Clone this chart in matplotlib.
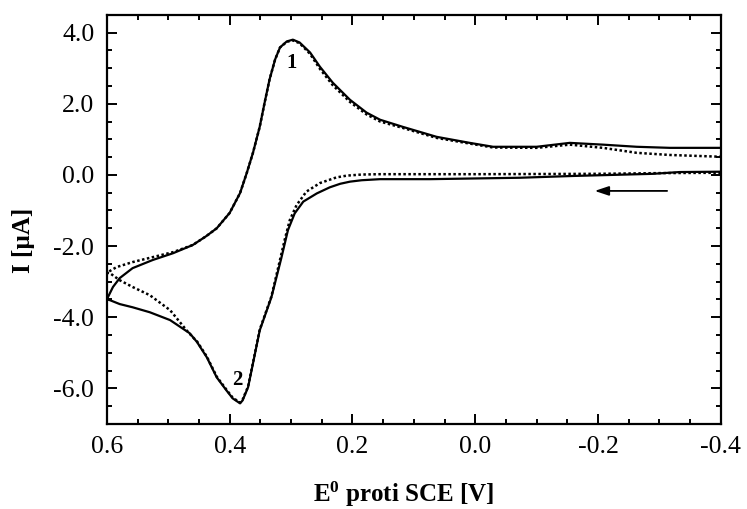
import matplotlib
matplotlib.use("Agg")
import matplotlib.pyplot as plt
from matplotlib.ticker import MultipleLocator, FormatStrFormatter

plt.rcParams["font.family"] = ["Liberation Serif", "DejaVu Serif"]
plt.rcParams["axes.unicode_minus"] = False
plt.rcParams["mathtext.fontset"] = "custom"
plt.rcParams["mathtext.rm"] = "Liberation Serif:bold"
plt.rcParams["mathtext.it"] = "Liberation Serif:bold"
plt.rcParams["mathtext.bf"] = "Liberation Serif:bold"

# solid curve: scan starts at -0.4 V (lower branch), turns at 0.6 V, returns
solid_E = [-0.4, -0.333, -0.289, -0.159, -0.073, 0.074, 0.155, 0.185,
           0.204, 0.220, 0.237, 0.258, 0.280, 0.294, 0.305, 0.316, 0.332,
           0.351, 0.362, 0.370, 0.379, 0.383, 0.395, 0.405, 0.421, 0.437,
           0.453, 0.465, 0.497, 0.530, 0.558, 0.579, 0.595, 0.6,
           0.590, 0.579, 0.558, 0.525, 0.492, 0.460, 0.438, 0.421, 0.400,
           0.383, 0.372, 0.362, 0.351, 0.343, 0.335, 0.326, 0.318, 0.307,
           0.297, 0.286, 0.269, 0.253, 0.232, 0.204, 0.177, 0.155, 0.118,
           0.063, 0.009, -0.029, -0.100, -0.154, -0.208, -0.263, -0.317,
           -0.4]
solid_I = [0.09, 0.08, 0.03, -0.03, -0.08, -0.12, -0.12, -0.15,
           -0.19, -0.25, -0.35, -0.52, -0.75, -1.08, -1.55, -2.35, -3.44,
           -4.37, -5.30, -5.97, -6.34, -6.42, -6.28, -6.06, -5.69, -5.13,
           -4.70, -4.45, -4.08, -3.86, -3.72, -3.63, -3.52, -3.50,
           -3.15, -2.90, -2.62, -2.39, -2.20, -1.97, -1.72, -1.50, -1.07,
           -0.51, 0.06, 0.62, 1.35, 2.03, 2.68, 3.24, 3.58, 3.75,
           3.80, 3.72, 3.44, 3.04, 2.59, 2.11, 1.75, 1.55, 1.35,
           1.07, 0.90, 0.79, 0.79, 0.90, 0.85, 0.79, 0.76,
           0.76]

# dotted curve
dot_E = [-0.4, -0.3, -0.2, 0.0, 0.155, 0.185, 0.209, 0.226, 0.253, 0.275,
         0.291, 0.302, 0.310, 0.318, 0.332, 0.351, 0.362, 0.370, 0.379,
         0.383, 0.395, 0.405, 0.421, 0.437, 0.453, 0.460, 0.470, 0.497,
         0.530, 0.558, 0.579, 0.595, 0.6,
         0.584, 0.558, 0.525, 0.492, 0.460, 0.438, 0.421, 0.400, 0.383,
         0.372, 0.362, 0.351, 0.343, 0.335, 0.326, 0.318, 0.307, 0.297,
         0.286, 0.269, 0.253, 0.232, 0.204, 0.177, 0.155, 0.118, 0.063,
         0.009, -0.029, -0.100, -0.154, -0.208, -0.263, -0.317, -0.4]
dot_I = [0.06, 0.05, 0.03, 0.02, 0.02, 0.01, -0.02, -0.07, -0.23, -0.47,
         -0.85, -1.27, -1.80, -2.39, -3.42, -4.35, -5.28, -5.95, -6.32,
         -6.40, -6.26, -6.04, -5.67, -5.11, -4.68, -4.56, -4.37, -3.80,
         -3.38, -3.15, -2.96, -2.76, -2.75,
         -2.59, -2.45, -2.31, -2.17, -1.97, -1.72, -1.50, -1.07, -0.51,
         0.06, 0.62, 1.35, 2.03, 2.68, 3.24, 3.58, 3.74, 3.78,
         3.70, 3.40, 2.98, 2.52, 2.05, 1.70, 1.50, 1.32, 1.04,
         0.88, 0.77, 0.76, 0.85, 0.76, 0.62, 0.56, 0.51]

fig = plt.figure(figsize=(7.47, 5.09), dpi=100)
ax = fig.add_axes([0.143, 0.167, 0.822, 0.804])

ax.plot(dot_E, dot_I, color="black", lw=1.8, linestyle=(0, (1, 1)))
ax.plot(solid_E, solid_I, color="black", lw=1.6)

ax.set_xlim(0.6, -0.4)
ax.set_ylim(-7.0, 4.5)
ax.xaxis.set_major_locator(MultipleLocator(0.2))
ax.xaxis.set_minor_locator(MultipleLocator(0.05))
ax.yaxis.set_major_locator(MultipleLocator(2.0))
ax.yaxis.set_minor_locator(MultipleLocator(0.5))
ax.xaxis.set_major_formatter(FormatStrFormatter("%.1f"))
ax.yaxis.set_major_formatter(FormatStrFormatter("%.1f"))
ax.tick_params(which="both", direction="in", top=True, right=True,
               width=1.4, labelsize=18.5, colors="black")
ax.tick_params(which="major", length=7, pad=9)
ax.tick_params(which="minor", length=3.5)
for s in ax.spines.values():
    s.set_linewidth(1.6)

# scan direction arrow
ax.annotate("", xy=(-0.19, -0.45), xytext=(-0.317, -0.45),
            arrowprops=dict(arrowstyle="-|>,head_length=0.6,head_width=0.2",
                            color="black", lw=1.3, mutation_scale=14))
ax.text(0.299, 3.15, "1", fontsize=15, fontweight="bold", ha="center", va="center")
ax.text(0.388, -5.77, "2", fontsize=15, fontweight="bold", ha="center", va="center")

fig.text(24 / 747, 1 - 240 / 509, "I [µA]", rotation=90, fontsize=18,
         fontweight="bold", ha="center", va="center")
fig.text(404 / 747, 1 - 494 / 509, r"E$^{0}$ proti SCE [V]", fontsize=18,
         fontweight="bold", ha="center", va="center")

fig.savefig("out.png", dpi=100)
